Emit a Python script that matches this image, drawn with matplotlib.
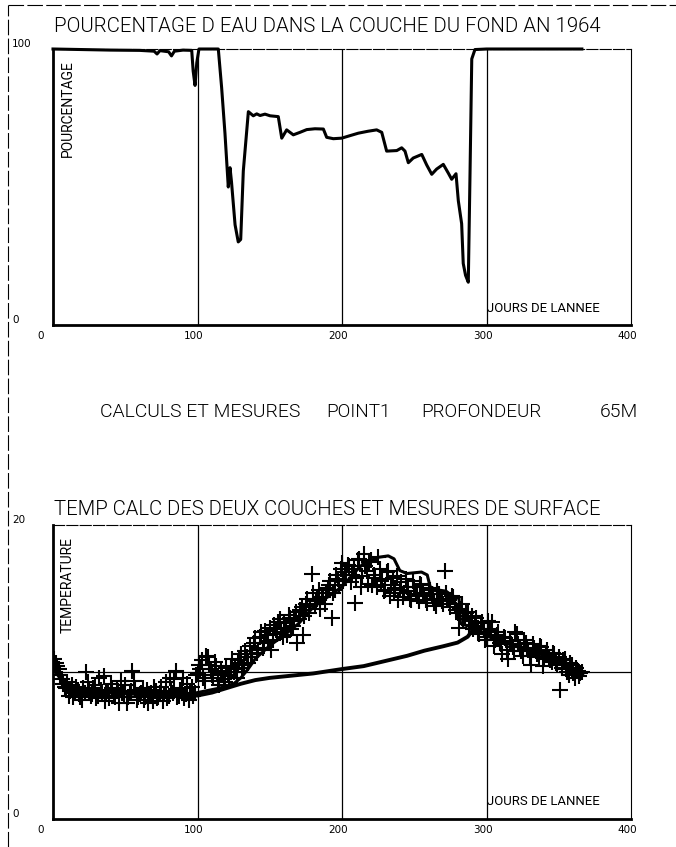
import matplotlib
matplotlib.use("Agg")
import matplotlib.pyplot as plt
from matplotlib.lines import Line2D
from matplotlib.transforms import ScaledTranslation
from matplotlib import font_manager

# pourcentage d'eau dans la couche du fond (jour, %)
pct_days = [0, 20, 40, 60, 70, 72, 74, 80, 82, 84, 90, 96, 97, 98.3, 99.5, 101,
            114.4, 116.7, 119, 121.3, 122.5, 123.5, 126, 128.2, 129.9, 131.7,
            135.2, 138.6, 141, 143.3, 146.7, 150.2, 155.9, 158.3, 161.7, 166.3,
            170.9, 175.6, 181.3, 187.1, 189.4, 194, 199.8, 205.5, 211.3, 218,
            224, 227.5, 230.9, 237.9, 241.3, 243.6, 245.9, 249.3, 255.2, 258.6,
            262.1, 265.5, 270.1, 273.6, 275.9, 278.9, 280.5, 282.8, 283.9, 285.5,
            287.4, 288.6, 289.8, 292, 300, 366]
pct_vals = [100, 99.8, 99.6, 99.5, 99.2, 98.2, 99.4, 99.0, 97.5, 99.2, 99.6, 99.5,
            92, 86.8, 95, 100, 100, 86, 69.5, 50, 57, 52, 36.3, 30.1, 31, 55.8,
            77.3, 75.8, 76.5, 75.9, 76.4, 75.8, 75.5, 67.7, 70.7, 68.9, 69.8, 70.8,
            71.1, 71.0, 68, 67.5, 67.7, 68.6, 69.5, 70.2, 70.7, 69.8, 63, 63.2,
            64.2, 63.0, 58.8, 60.5, 61.8, 58, 54.6, 56.5, 58.2, 55, 52.8, 54.8,
            45, 36.7, 22.3, 18, 15.5, 55, 96.4, 99.8, 100, 100]

# temperature calculee, couche de surface
surf_days = [0, 3, 8, 15, 25, 40, 60, 80, 95, 105, 115, 125, 130, 135, 140, 150,
             160, 170, 180, 190, 200, 210, 215, 220, 225, 232, 236, 240, 245, 255,
             259, 261, 265, 272, 276, 281, 282, 288, 295, 300, 310, 323, 335, 345,
             355, 362, 366]
surf_temp = [10.4, 10.0, 9.4, 9.0, 8.8, 8.7, 8.6, 8.5, 8.5, 8.7, 8.9, 9.2, 9.6,
             10.2, 10.9, 11.8, 12.5, 13.3, 14.4, 15.1, 15.8, 16.9, 17.4, 17.6,
             17.8, 17.9, 17.7, 16.9, 16.7, 16.8, 16.6, 15.8, 15.6, 15.5, 15.2,
             15.0, 13.3, 13.1, 12.8, 12.5, 12.1, 11.7, 11.3, 11.0, 10.6, 10.1, 9.8]

# temperature calculee, couche du fond
bot_days = [0, 5, 10, 20, 40, 60, 80, 100, 110, 120, 130, 140, 150, 165, 180,
            200, 215, 230, 245, 257, 270, 280, 287, 290, 292, 295, 300, 310, 323,
            335, 345, 355, 362, 366]
bot_temp = [10.3, 9.6, 9.1, 8.8, 8.6, 8.5, 8.4, 8.4, 8.6, 8.9, 9.2, 9.45, 9.6,
            9.75, 9.9, 10.2, 10.4, 10.75, 11.1, 11.45, 11.75, 12.0, 12.4, 12.8,
            13.2, 12.8, 12.5, 12.1, 11.7, 11.3, 11.0, 10.6, 10.1, 9.8]

# mesures de surface, jours impairs
meas_days_odd = list(range(1, 366, 2))
meas_temp_odd = [10.9, 10.4, 9.8, 9.2, 8.9, 8.4, 9.1, 8.6, 8.8, 8.3,
                 8.9, 10.0, 8.7, 8.5, 9.1, 8.4, 8.8, 9.7, 8.6, 8.2,
                 8.9, 8.3, 8.7, 9.4, 8.5, 7.9, 8.6, 10.1, 8.8, 8.3,
                 8.6, 8.1, 8.8, 8.4, 8.0, 8.7, 8.3, 9.0, 8.5, 8.2,
                 9.6, 8.6, 10.1, 8.4, 8.9, 8.2, 9.2, 8.6, 8.4, 9.8,
                 10.5, 10.8, 9.4, 11.0, 10.2, 9.6, 10.4, 9.1, 9.9, 9.3,
                 9.8, 10.4, 10.0, 9.6, 10.8, 10.3, 11.4, 10.6, 11.0, 12.0,
                 11.3, 12.4, 11.6, 12.8, 12.1, 11.5, 13.2, 12.6, 13.6, 12.4,
                 13.0, 13.9, 12.9, 13.5, 12.0, 14.2, 12.5, 14.6, 14.0, 16.7,
                 14.6, 15.0, 14.3, 15.1, 15.4, 15.9, 13.7, 15.6, 16.3, 17.0,
                 16.2, 16.6, 17.2, 16.6, 14.7, 17.6, 15.8, 18.0, 16.9, 17.5,
                 15.9, 16.4, 17.8, 16.2, 15.5, 16.8, 15.2, 16.4, 15.7, 14.9,
                 16.1, 15.4, 15.8, 15.0, 16.2, 15.3, 14.8, 15.9, 15.2, 14.7,
                 15.6, 15.0, 14.5, 15.3, 14.8, 16.9, 15.0, 14.4, 15.1, 14.2,
                 13.0, 14.6, 13.8, 14.1, 13.5, 12.9, 13.7, 12.6, 13.4, 12.2,
                 13.5, 12.8, 11.8, 12.5, 12.0, 11.2, 12.3, 10.9, 11.9, 11.4,
                 12.6, 11.7, 11.1, 12.0, 11.5, 10.5, 11.6, 11.2, 11.8, 10.4,
                 11.3, 11.0, 10.7, 11.2, 10.5, 8.8, 10.8, 10.2, 9.8, 10.5,
                 9.6, 10.1, 9.9]

# mesures de surface, jours pairs
meas_days_even = list(range(2, 367, 2))
meas_temp_even = [10.6, 10.2, 9.5, 9.0, 9.3, 8.7, 8.3, 9.0, 8.5, 8.1,
                  8.6, 9.3, 8.4, 8.9, 8.2, 9.6, 8.5, 8.0, 8.7, 9.2,
                  8.4, 8.8, 7.9, 8.6, 9.1, 8.3, 8.7, 9.4, 8.1, 8.5,
                  8.9, 8.3, 7.9, 8.6, 9.0, 8.2, 8.6, 8.0, 9.3, 8.4,
                  8.7, 9.5, 8.3, 8.8, 9.6, 8.5, 8.1, 9.0, 8.6, 9.9,
                  10.2, 9.6, 11.1, 10.5, 9.8, 10.7, 9.4, 10.1, 9.5, 10.3,
                  9.7, 10.9, 10.2, 10.6, 11.2, 10.5, 11.0, 11.8, 11.2, 12.3,
                  11.5, 12.7, 12.0, 12.5, 13.0, 12.2, 12.9, 13.4, 12.7, 13.3,
                  12.5, 13.7, 13.1, 14.1, 13.6, 14.4, 13.8, 15.0, 14.5, 15.4,
                  14.8, 15.6, 15.1, 14.6, 15.7, 16.2, 15.4, 16.6, 15.9, 17.4,
                  16.8, 17.3, 16.1, 17.0, 16.4, 17.7, 16.5, 17.2, 16.0, 17.6,
                  16.6, 15.8, 17.0, 16.3, 15.6, 16.9, 15.9, 15.4, 16.5, 15.6,
                  15.1, 16.3, 15.5, 14.9, 15.8, 15.2, 16.0, 15.4, 14.9, 15.7,
                  15.3, 14.7, 15.5, 15.0, 14.6, 15.4, 14.9, 15.2, 14.6, 14.0,
                  14.3, 13.6, 14.0, 13.2, 13.8, 13.1, 12.7, 13.3, 12.9, 12.4,
                  12.9, 13.4, 12.2, 12.7, 11.9, 12.4, 11.5, 12.1, 11.7, 12.7,
                  11.9, 11.4, 12.2, 11.6, 11.1, 11.9, 11.4, 11.0, 11.7, 10.9,
                  11.5, 10.8, 11.3, 10.6, 11.0, 10.3, 10.9, 10.0, 10.6, 9.9,
                  10.3, 9.7, 10.0]

x_ticks = [0, 100, 200, 300, 400]

W, H = 676, 847


def weight_of(f):
    w = f.weight
    if isinstance(w, str):
        w = font_manager.weight_dict.get(w, 400)
    return w


def pick_font():
    # a thin face looks closer to the pen-plotter lettering
    for name, wmax in [('Roboto', 300), ('Open Sans', 300), ('Lato', 300), ('DejaVu Sans', 200)]:
        for f in font_manager.fontManager.ttflist:
            if f.name == name and weight_of(f) <= wmax and f.style == 'normal':
                return name, weight_of(f)
    return 'DejaVu Sans', 400


FONT, FW = pick_font()
plt.rcParams['font.family'] = [FONT, 'DejaVu Sans']


def fx(x, y):
    return x / W, 1 - y / H


def axes_box(left, top, right, bottom):
    return [left / W, 1 - bottom / H, (right - left) / W, (bottom - top) / H]


def fit_width(t, width):
    # scale the font so that the text spans the width seen on the plot
    fig.canvas.draw()
    w = t.get_window_extent().width
    t.set_fontsize(t.get_fontsize() * width / w)


def style_axes(ax, ymax, ylabel):
    ax.set_xlim(0, 400)
    ax.set_ylim(0, ymax)
    for s in ['left', 'bottom']:
        ax.spines[s].set_linewidth(2.0)
    for s in ['top', 'right']:
        ax.spines[s].set_linewidth(0.8)
    ax.spines['top'].set_linestyle((0, (10, 2)))
    for d in [100, 200, 300]:
        ax.axvline(d, color='black', lw=0.9)
    ax.set_xticks(x_ticks)
    ax.set_xticklabels([str(t) for t in x_ticks], fontsize=7.5, family='DejaVu Sans')
    ax.set_yticks([0, ymax])
    ax.set_yticklabels(['0', str(ymax)], fontsize=7.5, family='DejaVu Sans',
                       ha='left', va='bottom')
    ax.tick_params(axis='both', length=0)
    ax.tick_params(axis='x', pad=4)
    ax.tick_params(axis='y', pad=29.5)
    for i, lab in enumerate(ax.get_xticklabels()):
        dx = -12 if i == 0 else -4
        lab.set_transform(lab.get_transform() + ScaledTranslation(dx / 100, 0, fig.dpi_scale_trans))
    t = ax.text(0.025, 0.96, ylabel, transform=ax.transAxes, rotation=90,
                ha='center', va='top', fontsize=10)
    t2 = ax.text(300.5, ymax * 0.06, 'JOURS DE LANNEE', ha='left', va='center', fontsize=9)
    return t, t2


fig = plt.figure(figsize=(W / 100, H / 100), dpi=100)

# page borders
fig.add_artist(Line2D([8 / W, 8 / W], [0, 1 - 5 / H], transform=fig.transFigure,
                      lw=0.8, color='black', ls=(0, (14, 3))))
fig.add_artist(Line2D([8 / W, 1], [1 - 5 / H, 1 - 5 / H], transform=fig.transFigure,
                      lw=0.8, color='black', ls=(0, (14, 3))))

# top chart
ax1 = fig.add_axes(axes_box(53, 49, 631, 325))
v1, j1 = style_axes(ax1, 100, 'POURCENTAGE')
ax1.plot(pct_days, pct_vals, color='black', lw=2.2, clip_on=False, solid_joinstyle='round')
title1 = fig.text(*fx(54, 27), 'POURCENTAGE D EAU DANS LA COUCHE DU FOND AN 1964',
                  ha='left', va='center', fontsize=13, fontweight=FW)

# middle line
mids = []
for xx, s, w in [(100, 'CALCULS ET MESURES', 200), (326, 'POINT1', 64),
                 (421, 'PROFONDEUR', 120), (600, '65M', 38)]:
    mids.append((fig.text(*fx(xx, 412), s, ha='left', va='center', fontsize=13, fontweight=FW), w))

# bottom chart
ax2 = fig.add_axes(axes_box(53, 525, 631, 819))
v2, j2 = style_axes(ax2, 20, 'TEMPERATURE')
ax2.axhline(10, color='black', lw=0.9)
ax2.plot(meas_days_odd, meas_temp_odd, ls='none', marker='+', ms=11, mew=1.5, color='black')
ax2.plot(meas_days_even, meas_temp_even, ls='none', marker='+', ms=11, mew=1.5, color='black')
ax2.plot(bot_days, bot_temp, color='black', lw=2.8, solid_joinstyle='round')
ax2.plot(surf_days, surf_temp, color='black', lw=2.2, solid_joinstyle='round')
title2 = fig.text(*fx(54, 509), 'TEMP CALC DES DEUX COUCHES ET MESURES DE SURFACE',
                  ha='left', va='center', fontsize=13, fontweight=FW)

fit_width(title1, 544)
fit_width(title2, 544)
for t, w in mids:
    fit_width(t, w)
for t in [j1, j2]:
    fit_width(t, 112)

fig.savefig('out.png', dpi=100)
